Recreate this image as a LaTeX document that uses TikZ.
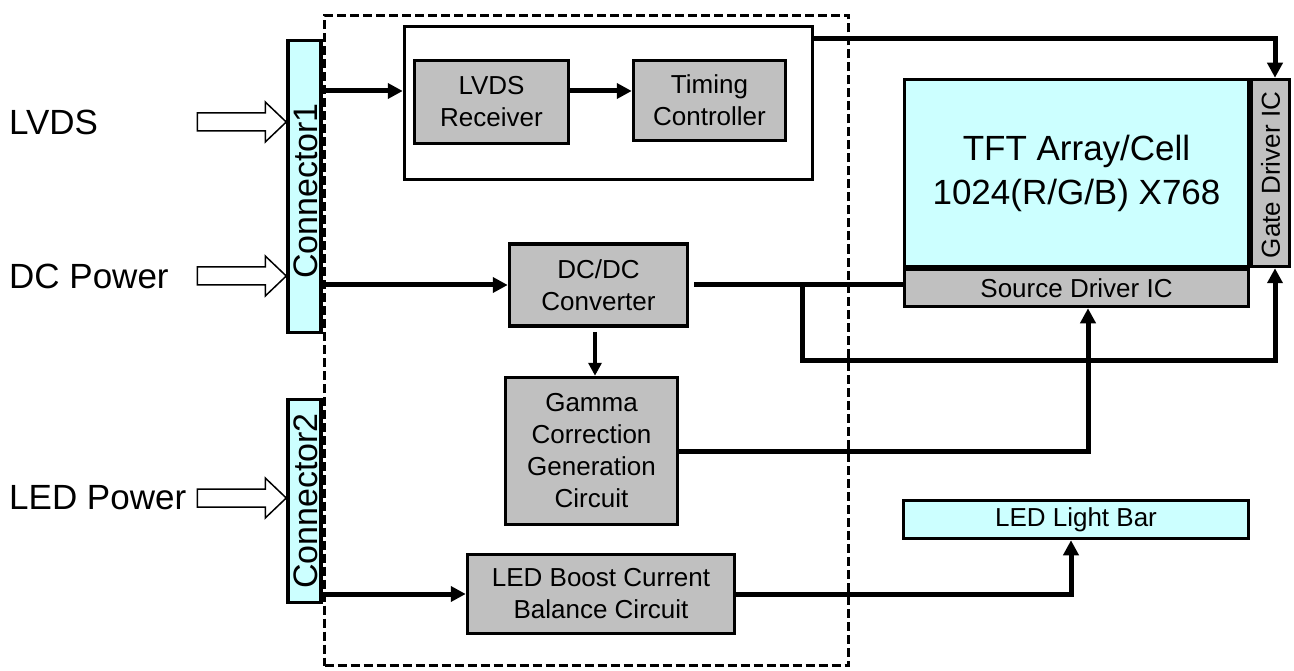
\documentclass[tikz,border=0pt]{standalone}
\usepackage{graphicx}
\usepackage{fontspec}
\setmainfont{Liberation Sans}
\usetikzlibrary{arrows.meta,calc}
\definecolor{cyanfill}{HTML}{CCFFFF}
\definecolor{boxgray}{HTML}{C0C0C0}
\tikzset{
  graybox/.style={draw, line width=3.5pt, fill=boxgray, align=center, inner sep=0pt, font=\fontsize{26}{32}\selectfont},
  cyanbox/.style={draw, line width=3.5pt, fill=cyanfill, align=center, inner sep=0pt},
  conbox/.style={cyanbox, minimum width=33pt, font=\fontsize{34}{40}\selectfont},
  lab/.style={anchor=west, inner sep=0pt, font=\fontsize{35}{40}\selectfont},
  wire/.style={line width=5pt},
  conn/.style={wire, -{Triangle[length=15pt,width=15pt]}},
  thinconn/.style={line width=3.5pt, -{Triangle[length=13pt,width=13pt]}},
  hollow/.pic={\draw[line width=1.5pt, fill=white, line join=miter] (0,0) -- (-21,-20) -- (-21,-9) -- (-89,-9) -- (-89,9) -- (-21,9) -- (-21,20) -- cycle;}
}
\newcommand{\context}[2]{\rotatebox{90}{\raisebox{-1pt}[\height][\depth]{\hspace*{#1}#2}}}
\begin{document}
\begin{tikzpicture}[x=1pt,y=-1pt]
\useasboundingbox (0,0) rectangle (1294,671);
\fill[white] (0,0) rectangle (1294,671);

% dashed board outline
\node[draw, line width=3pt, dash pattern=on 9pt off 4pt, minimum width=524pt, minimum height=650pt, inner sep=0pt] (board) at (586.5,340.5) {};

% boxes
\node[draw, line width=3.5pt, fill=white, minimum width=408pt, minimum height=153pt, inner sep=0pt] (outer) at (608.5,103) {};
\node[graybox, minimum width=154pt, minimum height=83pt] (lvdsr) at (491.5,102) {LVDS\\Receiver};
\node[graybox, minimum width=152pt, minimum height=80pt] (timing) at (709.5,100.5) {Timing\\Controller};
\node[graybox, minimum width=178pt, minimum height=82pt] (dcdc) at (598.5,285) {DC/DC\\Converter};
\node[graybox, minimum width=172pt, minimum height=147pt] (gamma) at (591.5,451) {Gamma\\Correction\\Generation\\Circuit};
\node[graybox, minimum width=267pt, minimum height=79pt] (boost) at (601,594) {LED Boost Current\\Balance Circuit};

\node[cyanbox, minimum width=344pt, minimum height=187pt, font=\fontsize{35}{44}\selectfont] (tft) at (1076.5,173) {TFT Array/Cell\\1024(R/G/B) X768};
\node[graybox, minimum width=38pt, minimum height=187pt] (gate) at (1270.5,173) {\rotatebox{90}{\hspace*{-4pt}Gate Driver IC}};
\node[graybox, minimum width=344pt, minimum height=37pt] (source) at (1076.5,288) {Source Driver IC};
\node[cyanbox, minimum width=345pt, minimum height=38pt, font=\fontsize{26}{32}\selectfont] (light) at (1076,519.5) {LED Light Bar};

\node[conbox, minimum height=292pt] (con1) at (304.5,186.5) {\context{-9pt}{Connector1}};
\node[conbox, minimum height=203pt] (con2) at (304.5,501) {\context{0pt}{Connector2}};

% input labels
\node[lab] (lvdsl) at (9,122) {LVDS};
\node[lab] (dcl) at (9,276) {DC Power};
\node[lab] (ledl) at (9,498) {LED Power};

\pic at (con1.west |- lvdsl.east) {hollow};
\pic at (con1.west |- dcl.east) {hollow};
\pic at (con2.west |- ledl.east) {hollow};

% helper coordinates
\coordinate (yA) at (0,91);
\coordinate (gA) at (1275,39);
\coordinate (lp) at (802,360);
\coordinate (xs) at (1088,0);
\coordinate (xl) at (1071,0);
\coordinate (xg) at (595,0);

% connectors
\draw[conn] (con1.east |- yA) -- (outer.west |- yA);
\draw[conn] (lvdsr.east |- yA) -- (timing.west |- yA);
\draw[conn] (outer.east |- gA) -- (gA) -- (gA |- gate.north);
\draw[conn] (con1.east |- dcdc.west) -- (dcdc.west);
\draw[wire, shorten <=5pt] (dcdc.east) -- (dcdc.east -| source.west);
\draw[conn] (lp |- dcdc.east) -- (lp) -| (gA |- gate.south);
\draw[thinconn, shorten <=4pt] (xg |- dcdc.south) -- (xg |- gamma.north);
\draw[conn] (gamma.east) -| (xs |- source.south);
\draw[conn] (con2.east |- boost.west) -- (boost.west);
\draw[conn] (boost.east) -| (xl |- light.south);
\end{tikzpicture}
\end{document}
